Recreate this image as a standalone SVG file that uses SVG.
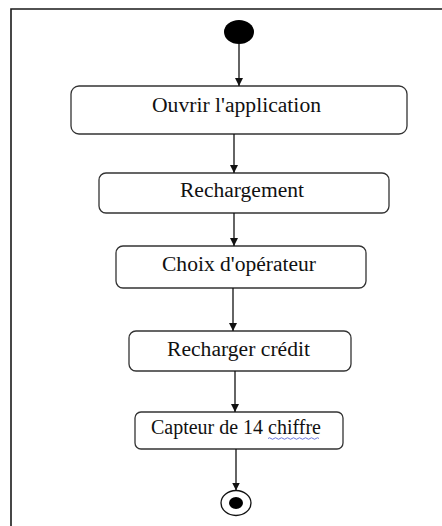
<svg xmlns="http://www.w3.org/2000/svg" width="442" height="526" viewBox="0 0 442 526">
<style>
.frame{fill:none;stroke:#1a1a1a;stroke-width:1.6}
.box{fill:#fff;stroke:#333;stroke-width:1.3}
.lbl{font-family:"Liberation Serif","Times New Roman",serif;font-size:20.5px;fill:#111;text-anchor:middle}
.edge{stroke:#111;stroke-width:1.3;fill:none;marker-end:url(#ah)}
</style>
<defs>
<marker id="ah" viewBox="0 0 10 10" refX="10" refY="5" markerWidth="8" markerHeight="8" markerUnits="userSpaceOnUse" orient="auto">
<path d="M0,0 L10,5 L0,10 Z" fill="#111"/>
</marker>
</defs>
<rect width="442" height="526" fill="#fff"/>
<path class="frame" d="M11,526 V9 H442"/>
<g id="start"><ellipse cx="239" cy="32" rx="15" ry="12" fill="#000"/></g>
<g id="n1"><rect class="box" x="71" y="86" width="336" height="48" rx="8"/><text class="lbl" x="236.5" y="112" textLength="169" lengthAdjust="spacingAndGlyphs">Ouvrir l'application</text></g>
<g id="n2"><rect class="box" x="99" y="173" width="290" height="40" rx="7"/><text class="lbl" x="242" y="197" textLength="124" lengthAdjust="spacingAndGlyphs">Rechargement</text></g>
<g id="n3"><rect class="box" x="116" y="246" width="250" height="42" rx="7"/><text class="lbl" x="239" y="271" textLength="154" lengthAdjust="spacingAndGlyphs">Choix d'opérateur</text></g>
<g id="n4"><rect class="box" x="129" y="331" width="222" height="40" rx="7"/><text class="lbl" x="238.5" y="356" textLength="143" lengthAdjust="spacingAndGlyphs">Recharger crédit</text></g>
<g id="n5"><rect class="box" x="135" y="412" width="208" height="37" rx="6"/><text class="lbl" x="236" y="434" textLength="170" lengthAdjust="spacingAndGlyphs">Capteur de 14 chiffre</text>
<path d="M268,438.5 q1.5,-1.5 3,0 t3,0 t3,0 t3,0 t3,0 t3,0 t3,0 t3,0 t3,0 t3,0 t3,0 t3,0 t3,0 t3,0 t3,0 t3,0 t3,0" fill="none" stroke="#5a6ad8" stroke-width="0.9"/></g>
<g id="end"><ellipse cx="236" cy="503" rx="15" ry="12.5" fill="#fff" stroke="#111" stroke-width="1.3"/><ellipse cx="236" cy="503" rx="7" ry="6" fill="#000"/></g>
<g id="connectors">
<path class="edge" d="M239,44 V86"/>
<path class="edge" d="M234,134 V173"/>
<path class="edge" d="M234,213 V246"/>
<path class="edge" d="M233,288 V331"/>
<path class="edge" d="M235,371 V412"/>
<path class="edge" d="M236,449 V490.5"/>
</g>
</svg>
